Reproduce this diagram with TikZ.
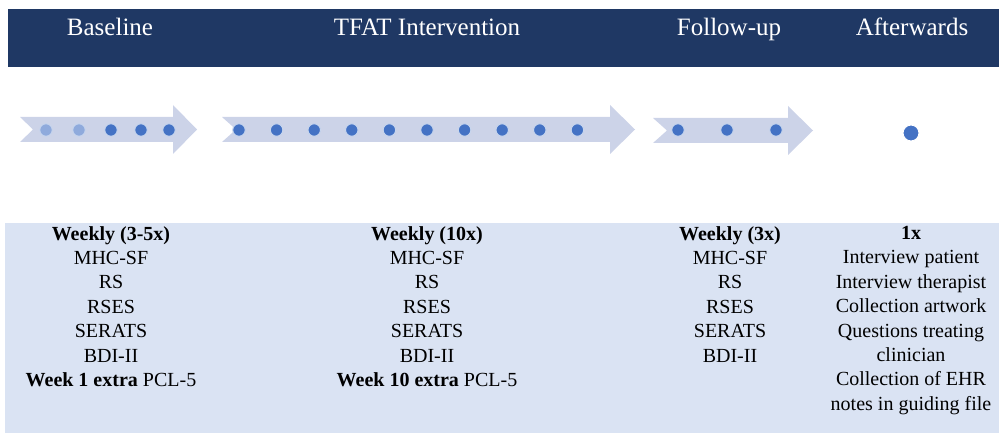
\documentclass[tikz,border=0pt]{standalone}
\usepackage{fontspec}
\setmainfont{Liberation Serif}
\usepackage{tikz}
\usetikzlibrary{positioning,calc}
\definecolor{navyband}{RGB}{31, 56, 100}
\definecolor{paleband}{RGB}{218, 227, 243}
\definecolor{arrowgrey}{RGB}{204, 211, 232}
\definecolor{dotblue}{RGB}{68, 114, 196}
\definecolor{dotpale}{RGB}{143, 170, 220}

\tikzset{
  phase/.style={text=white, anchor=base, inner sep=0pt, font=\fontsize{25}{25}\selectfont},
  measures/.style={align=center, anchor=north, inner sep=0pt, font=\fontsize{20}{24.4}\selectfont},
  wkdot/.style={circle, fill=dotblue, draw=white!70!dotblue, line width=1pt, inner sep=0pt, minimum size=12.5pt},
  chevron/.style={fill=arrowgrey}
}

\begin{document}
\begin{tikzpicture}[x=1pt, y=-1pt]
    \useasboundingbox (0,0) rectangle (999,433);
    \fill[navyband] (8,9) rectangle (999,67);
    \fill[paleband] (5,223) rectangle (999,433);

    % header
    \node[phase] (hbase) at (110,36) {Baseline};
    \node[phase] (htfat) at (427,36) {TFAT Intervention};
    \node[phase] (hfoll) at (729,36) {Follow-up};
    \node[phase] (hafter) at (912,36) {Afterwards};

    % phase arrows
    \path[chevron] (20,117) -- (173,117) -- (173,105) -- (197,129.5) -- (173,154) -- (173,142) -- (20,142) -- (33,129.5) -- cycle;
    \path[chevron] (222,117) -- (610,117) -- (610,105) -- (635,129.5) -- (610,154) -- (610,142) -- (222,142) -- (236,129.5) -- cycle;
    \path[chevron] (653,118) -- (788,118) -- (788,106) -- (813,130.5) -- (788,155) -- (788,143) -- (653,143) -- (667,130.5) -- cycle;

    % weekly measurements
    \foreach \x in {46,79}
      \node[wkdot, fill=dotpale] (b\x) at (\x,130) {};
    \foreach \x in {111,141,169}
      \node[wkdot] (b\x) at (\x,130) {};
    \foreach \i in {0,...,9}
      \node[wkdot] (t\i) at (239+37.6*\i,130) {};
    \foreach \x in {678,727,776}
      \node[wkdot] (f\x) at (\x,130) {};
    \node[wkdot, minimum size=16pt, draw=white] (once) at (911,133) {};

    % measures per phase
    \node[measures] (mbase) at (111,226) {\textbf{Weekly (3-5x)}\\MHC-SF\\RS\\RSES\\SERATS\\BDI-II\\\textbf{Week 1 extra} PCL-5};
    \node[measures] (mtfat) at (427,226) {\textbf{Weekly (10x)}\\MHC-SF\\RS\\RSES\\SERATS\\BDI-II\\\textbf{Week 10 extra} PCL-5};
    \node[measures] (mfoll) at (730,226) {\textbf{Weekly (3x)}\\MHC-SF\\RS\\RSES\\SERATS\\BDI-II};
    \node[measures] (mafter) at (911,226) {\textbf{1x}\\Interview patient\\Interview therapist\\Collection artwork\\Questions treating\\clinician\\Collection of EHR\\notes in guiding file};
\end{tikzpicture}
\end{document}
